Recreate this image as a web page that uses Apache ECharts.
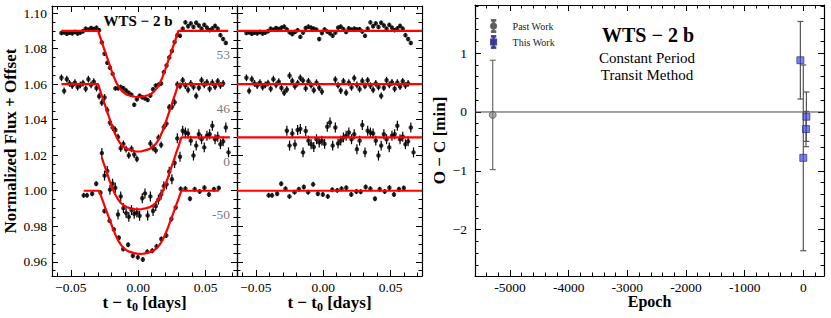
<!DOCTYPE html>
<html><head><meta charset="utf-8">
<script src="https://cdn.jsdelivr.net/npm/echarts@6/dist/echarts.min.js"></script>
<style>html,body{margin:0;padding:0;background:#fff}#c{width:831px;height:318px}</style>
</head><body><div id="c"></div>
<script>
// ---------------- DATA ----------------
const epochLabels = ['53', '46', '0', '-50'];
const baselines = [1.09, 1.06, 1.03, 1.00];
const fluxErr = [0.0012, 0.0019, 0.0028, 0.0014];

// epoch 53 (top light curve)
const t53 = [-0.057,-0.055,-0.053,-0.051,-0.049,-0.047,-0.045,-0.043,-0.041,-0.039,-0.037,-0.035,-0.033,-0.031,-0.029,-0.027,-0.025,-0.023,-0.021,-0.019,-0.017,-0.015,-0.013,-0.011,-0.009,-0.007,-0.005,-0.003,-0.001,0.001,0.003,0.005,0.007,0.009,0.011,0.013,0.015,0.017,0.019,0.021,0.023,0.025,0.027,0.029,0.031,0.033,0.035,0.037,0.039,0.041,0.043,0.045,0.047,0.049,0.051,0.053,0.055,0.057,0.059,0.061,0.063,0.065];
const f53 = [1.0888,1.0892,1.0884,1.0890,1.0886,1.0894,1.0885,1.0890,1.0898,1.0912,1.0906,1.0916,1.0910,1.0918,1.0904,1.0835,1.0771,1.0720,1.0693,1.0658,1.0576,1.0577,1.0584,1.0577,1.0564,1.0551,1.0540,1.0484,1.0515,1.0535,1.0526,1.0520,1.0511,1.0536,1.0571,1.0592,1.0597,1.0604,1.0668,1.0705,1.0750,1.0787,1.0837,1.0876,1.0872,1.0912,1.0948,1.0926,1.0942,1.0922,1.0946,1.0930,1.0912,1.0934,1.0918,1.0904,1.0914,1.0928,1.0912,1.0876,1.0854,1.0832];
const r53 = [-1.2,-0.8,-1.6,-1.0,-1.4,-0.6,-1.5,-1.0,-0.2,1.2,0.6,1.6,1.0,1.8,2.4,0.8,-0.8,-1.8,-0.6,0.4,-3.4,-1.0,1.6,2.4,1.8,1.2,0.6,-4.6,-1.2,0.8,-0.4,-1.4,-2.8,-1.0,1.8,2.4,1.0,-0.6,1.4,0.6,1.2,0.8,1.0,-0.4,-2.8,1.2,4.8,2.6,4.2,2.2,4.6,3.0,1.2,3.4,1.8,0.4,1.4,2.8,1.2,-2.4,-4.6,-6.8];
const mt53 = [-0.057,-0.0298,-0.028,-0.026,-0.024,-0.022,-0.020,-0.018,-0.016,-0.014,-0.012,-0.010,-0.008,-0.005,-0.0025,0,0.0025,0.005,0.008,0.010,0.012,0.014,0.016,0.018,0.020,0.022,0.024,0.026,0.028,0.0298,0.0668];
const mf53 = [1.09,1.09,1.0859,1.0814,1.0769,1.0725,1.0680,1.0639,1.0605,1.0579,1.0561,1.0548,1.0539,1.0533,1.0529,1.0527,1.0529,1.0533,1.0539,1.0548,1.0561,1.0579,1.0605,1.0639,1.0680,1.0725,1.0769,1.0814,1.0859,1.09,1.09];

// epoch 46
const t46 = [-0.057,-0.055,-0.053,-0.051,-0.049,-0.047,-0.045,-0.043,-0.041,-0.039,-0.037,-0.035,-0.033,-0.031,-0.029,-0.027,-0.025,-0.023,-0.021,-0.019,-0.017,-0.015,-0.013,-0.011,-0.009,-0.007,-0.005,-0.003,-0.001,0.009,0.011,0.013,0.015,0.017,0.019,0.021,0.023,0.025,0.027,0.029,0.031,0.033,0.035,0.037,0.039,0.041,0.043,0.045,0.047,0.049,0.051,0.053,0.055,0.057,0.059,0.061,0.063];
const f46 = [1.0636,1.0562,1.0628,1.0604,1.0592,1.0608,1.0584,1.0596,1.0606,1.0574,1.0628,1.0596,1.0614,1.0578,1.0532,1.0496,1.0525,1.0454,1.0384,1.0356,1.0342,1.0302,1.0239,1.0264,1.0234,1.0199,1.0236,1.0204,1.0179,1.0266,1.0242,1.0227,1.0298,1.0258,1.0358,1.0378,1.0470,1.0473,1.0498,1.0598,1.0590,1.0622,1.0592,1.0568,1.0604,1.0584,1.0534,1.0580,1.0622,1.0596,1.0610,1.0574,1.0608,1.0586,1.0616,1.0592,1.0604];
const r46 = [3.6,-3.8,2.8,0.4,-0.8,0.8,-1.6,-0.4,0.6,-2.6,2.8,-0.4,1.4,-2.2,-4.8,-3.0,4.8,1.8,-1.2,0.6,3.6,2.0,-2.4,1.6,-0.6,-3.4,0.8,-2.0,-4.2,2.6,-0.6,-3.6,1.6,-4.8,0.8,-1.8,3.4,-0.4,-2.8,1.8,-1.0,2.2,-0.8,-3.2,0.4,-1.6,-6.6,-2.0,2.2,-0.4,1.0,-2.6,0.8,-1.4,1.6,-0.8,0.4];
const mt46 = [-0.057,-0.0298,-0.028,-0.026,-0.024,-0.022,-0.020,-0.018,-0.016,-0.014,-0.012,-0.010,-0.008,-0.005,-0.0025,0,0.0025,0.005,0.008,0.010,0.012,0.014,0.016,0.018,0.020,0.022,0.024,0.026,0.028,0.0298,0.063];
const mf46 = [1.06,1.06,1.0558,1.0513,1.0467,1.0422,1.0376,1.0335,1.0301,1.0274,1.0255,1.0242,1.0234,1.0227,1.0222,1.0221,1.0222,1.0227,1.0234,1.0242,1.0255,1.0274,1.0301,1.0335,1.0376,1.0422,1.0467,1.0513,1.0558,1.06,1.06];

// epoch 0
const t0 = [-0.027,-0.025,-0.023,-0.021,-0.019,-0.017,-0.015,-0.013,-0.011,-0.009,-0.007,-0.005,-0.003,-0.001,0.001,0.003,0.005,0.007,0.009,0.011,0.013,0.015,0.017,0.019,0.021,0.023,0.025,0.027,0.029,0.031,0.033,0.035,0.037,0.039,0.041,0.043,0.045,0.047,0.049,0.051,0.053,0.055,0.057,0.059,0.061,0.063,0.065,0.067];
const f0 = [1.0212,1.0085,1.0111,1.0006,1.0040,1.0017,0.9866,0.9968,0.9902,0.9874,0.9853,0.9891,0.9870,0.9877,0.9859,0.9958,0.9985,0.9861,0.9968,0.9886,0.9914,0.9950,0.9979,1.0026,1.0036,1.0107,1.0065,1.0156,1.0295,1.0191,1.0338,1.0328,1.0322,1.0282,1.0198,1.0254,1.0318,1.0290,1.0244,1.0310,1.0318,1.0366,1.0290,1.0304,1.0262,1.0278,1.0356,1.0216];
const r0 = [3.8,-4.6,2.2,-4.0,4.2,4.8,-8.4,3.6,-1.8,-3.8,-5.4,-1.0,-2.8,-1.8,-3.6,6.0,8.4,-4.6,5.6,-3.4,-1.8,0,1.0,2.8,-1.0,1.8,-6.6,-1.8,7.0,-8.4,3.8,2.8,2.2,-1.8,-10.2,-4.6,1.8,-1.0,-5.6,1.0,1.8,6.6,-1.0,0.4,-3.8,-2.2,5.6,-8.4];
const mt0 = [-0.027,-0.0258,-0.0236,-0.0215,-0.0193,-0.0172,-0.0150,-0.0129,-0.0107,-0.0086,-0.0054,-0.0027,0,0.0027,0.0054,0.0086,0.0107,0.0129,0.0150,0.0172,0.0193,0.0215,0.0236,0.0258,0.0279,0.0301,0.032,0.068];
const mf0 = [1.0186,1.0158,1.0110,1.0061,1.0017,0.9980,0.9952,0.9931,0.9917,0.9908,0.9901,0.9897,0.9895,0.9897,0.9901,0.9908,0.9917,0.9931,0.9952,0.9980,1.0017,1.0061,1.0110,1.0158,1.0207,1.0255,1.03,1.03];

// epoch -50
const tm50 = [-0.0405,-0.0380,-0.0342,-0.0312,-0.0280,-0.0251,-0.0213,-0.0181,-0.0144,-0.0112,-0.0075,-0.0040,-0.0003,0.0034,0.0067,0.0104,0.0136,0.0171,0.0208,0.0246,0.0278,0.0315,0.0350,0.0384,0.0419,0.0456,0.0491,0.0525,0.0562,0.0598];
const fm50 = [0.9974,0.9974,0.9983,1.0039,0.9989,0.9886,0.9831,0.9782,0.9735,0.9672,0.9696,0.9634,0.9625,0.9613,0.9656,0.9662,0.9687,0.9728,0.9748,0.9841,0.9906,1.0010,1.0011,0.9955,1.0008,0.9996,1.0017,0.9979,1.0008,1.0015];
const rm50 = [-2.6,-2.6,-1.7,3.9,1.1,-3.2,-0.8,0.8,2.1,-0.8,3.6,-1.7,-2.1,-3.2,0.6,0.2,1.1,1.7,-2.1,-0.4,-0.6,2.1,1.1,-4.5,0.8,-0.4,1.7,-2.1,0.8,1.5];
const mtm50 = [-0.0405,-0.029,-0.0272,-0.0251,-0.0231,-0.021,-0.019,-0.0169,-0.0149,-0.0128,-0.0108,-0.0087,-0.0067,-0.0036,-0.0011,0.0015,0.0041,0.0066,0.0097,0.0117,0.0138,0.0158,0.0179,0.0199,0.022,0.024,0.0261,0.0281,0.0302,0.032,0.0598];
const mfm50 = [1.0,1.0,0.9961,0.9918,0.9876,0.9833,0.9791,0.9752,0.9720,0.9695,0.9677,0.9665,0.9657,0.9650,0.9646,0.9645,0.9646,0.9650,0.9657,0.9665,0.9677,0.9695,0.9720,0.9752,0.9791,0.9833,0.9876,0.9918,0.9961,1.0,1.0];

// O - C
const pastEpoch = [-5295];
const pastOC = [-0.05];
const pastErr = [0.93];
const thisEpoch = [-50, 0, 46, 53];
const thisOC = [0.88, -0.78, -0.29, -0.08];
const thisErr = [0.66, 1.58, 0.30, 0.42];

// axes extents & tick labels
const timeRange = [-0.064, 0.0733];
const fluxRange = [0.952, 1.104];
const epochRange = [-5597, 353];
const ocRange = [-2.79, 1.82];
const timeTicks = [-0.05, 0, 0.05];
const fluxTicks = [0.96, 0.98, 1.00, 1.02, 1.04, 1.06, 1.08, 1.10];
const epochTicks = [-5000, -4000, -3000, -2000, -1000, 0];
const ocTicks = [-2, -1, 0, 1];

// ---------------- CHART ----------------
const FONT = 'Liberation Serif';
function steps(lo, hi, st) { const o = []; const n = Math.round((hi - lo) / st); for (let i = 0; i <= n; i++) o.push(+(lo + i * st).toFixed(6)); return o; }
const timeMinor = steps(-0.06, 0.07, 0.01);
const fluxMinor = steps(0.955, 1.10, 0.005);
const epochMinor = steps(-5400, 200, 200);
const ocMinor = steps(-2.6, 1.8, 0.2);

const minusFmt = d => v => (v < 0 ? '\u2212' : '') + Math.abs(v).toFixed(d);

function axisGroup(dim, gridIndex, range, majors, minors, lab) {
  const sides = dim === 'x' ? ['bottom', 'top'] : ['left', 'right'];
  const list = [];
  sides.forEach(function (pos, si) {
    [true, false].forEach(function (major) {
      const ax = {
        type: 'value', gridIndex: gridIndex, position: pos, min: range[0], max: range[1],
        axisLine: {show: major, onZero: false, lineStyle: {color: '#000', width: 1.2}},
        axisTick: {show: true, inside: true, length: major ? 6 : 3.5, customValues: major ? majors : minors, lineStyle: {color: '#000', width: 1}},
        axisLabel: {show: false},
        splitLine: {show: false},
        minorTick: {show: false},
        axisPointer: {show: false},
        silent: true
      };
      if (major && si === 0 && lab) {
        ax.axisLabel = {show: true, customValues: majors, formatter: lab.fmt, margin: lab.margin, fontFamily: FONT, fontSize: 13.5, color: '#000'};
        if (lab.name) {
          ax.name = lab.name; ax.nameLocation = 'middle'; ax.nameGap = lab.nameGap;
          ax.nameTextStyle = lab.nameStyle; ax.nameMoveOverlap = false;
        }
      }
      list.push(ax);
    });
  });
  return list;
}

const boldName = {fontFamily: FONT, fontWeight: 'bold', fontSize: 17, color: '#000'};
const tName = {
  name: '{a|t \u2212 t}{s|0}{a| [days]}', nameGap: 16,
  nameStyle: {fontFamily: FONT, fontWeight: 'bold', fontSize: 17, color: '#000',
    rich: {a: {fontFamily: FONT, fontWeight: 'bold', fontSize: 17, color: '#000'},
           s: {fontFamily: FONT, fontWeight: 'bold', fontSize: 12, color: '#000', padding: [9, 0, 0, 0]}}}
};

const xAxes = [].concat(
  axisGroup('x', 0, timeRange, timeTicks, timeMinor, Object.assign({fmt: minusFmt(2), margin: 4}, tName)),
  axisGroup('x', 1, timeRange, timeTicks, timeMinor, Object.assign({fmt: minusFmt(2), margin: 4}, tName)),
  axisGroup('x', 2, epochRange, epochTicks, epochMinor, {fmt: v => String(v), margin: 4, name: 'Epoch', nameGap: 17, nameStyle: Object.assign({}, boldName, {fontSize: 16})})
);
const yAxes = [].concat(
  axisGroup('y', 0, fluxRange, fluxTicks, fluxMinor, {fmt: v => v.toFixed(2), margin: 5, name: 'Normalized Flux + Offset', nameGap: 33, nameStyle: boldName}),
  axisGroup('y', 1, fluxRange, fluxTicks, fluxMinor, null),
  axisGroup('y', 2, ocRange, ocTicks, ocMinor, {fmt: minusFmt(0), margin: 8, name: 'O \u2212 C [min]', nameGap: 27, nameStyle: boldName})
);

function errRender(color, width, cap) {
  return function (params, api) {
    const x = api.value(0), y = api.value(1), e = api.value(2);
    const lo = api.coord([x, y - e]), hi = api.coord([x, y + e]);
    const st = {stroke: color, lineWidth: width};
    const ch = [{type: 'line', shape: {x1: lo[0], y1: lo[1], x2: hi[0], y2: hi[1]}, style: st}];
    if (cap) {
      ch.push({type: 'line', shape: {x1: lo[0] - cap, y1: lo[1], x2: lo[0] + cap, y2: lo[1]}, style: st});
      ch.push({type: 'line', shape: {x1: hi[0] - cap, y1: hi[1], x2: hi[0] + cap, y2: hi[1]}, style: st});
    }
    return {type: 'group', children: ch};
  };
}

const series = [];
function points(grid, t, y, err) {
  series.push({type: 'custom', xAxisIndex: grid * 4, yAxisIndex: grid * 4, silent: true, clip: true, z: 2,
    data: t.map((v, i) => [v, y[i], err]), renderItem: errRender('#000', 1.2, 0)});
  series.push({type: 'scatter', xAxisIndex: grid * 4, yAxisIndex: grid * 4, silent: true, z: 3,
    symbol: 'circle', symbolSize: 4.5, itemStyle: {color: '#000'}, data: t.map((v, i) => [v, y[i]])});
}
function redLine(grid, t, y) {
  series.push({type: 'line', xAxisIndex: grid * 4, yAxisIndex: grid * 4, silent: true, z: 5, showSymbol: false, symbol: 'none',
    lineStyle: {color: '#ff0000', width: 2.2}, data: t.map((v, i) => [v, y[i]])});
}

const tArr = [t53, t46, t0, tm50];
const fArr = [f53, f46, f0, fm50];
const rArr = [r53, r46, r0, rm50];
const mtArr = [mt53, mt46, mt0, mtm50];
const mfArr = [mf53, mf46, mf0, mfm50];

for (let k = 0; k < 4; k++) {
  points(0, tArr[k], fArr[k], fluxErr[k]);
  redLine(0, mtArr[k], mfArr[k]);
  points(1, tArr[k], rArr[k].map(r => baselines[k] + r / 1000), fluxErr[k]);
  redLine(1, timeRange, [baselines[k], baselines[k]]);
}
// epoch labels
series.push({type: 'scatter', xAxisIndex: 0, yAxisIndex: 0, silent: true, clip: false, symbolSize: 0, z: 6,
  data: baselines.map((b, i) => ({value: [timeRange[1], b - 0.0135], name: epochLabels[i]})),
  label: {show: true, position: 'left', distance: 7, formatter: '{b}', fontFamily: FONT, fontSize: 13.5, color: '#555'}});

// O-C
series.push({type: 'line', xAxisIndex: 8, yAxisIndex: 8, silent: true, z: 1, symbol: 'none', showSymbol: false,
  lineStyle: {color: '#444', width: 1}, data: [[epochRange[0], 0], [epochRange[1], 0]]});
series.push({type: 'custom', xAxisIndex: 8, yAxisIndex: 8, silent: true, z: 2,
  data: pastEpoch.map((e, i) => [e, pastOC[i], pastErr[i]]), renderItem: errRender('#6a6a6a', 1.2, 3)});
series.push({type: 'scatter', name: 'Past Work', xAxisIndex: 8, yAxisIndex: 8, silent: true, z: 3,
  symbol: 'circle', symbolSize: 7, itemStyle: {color: 'rgba(130,130,130,0.85)', borderColor: '#444', borderWidth: 0.8},
  data: pastEpoch.map((e, i) => [e, pastOC[i]])});
series.push({type: 'custom', xAxisIndex: 8, yAxisIndex: 8, silent: true, z: 2,
  data: thisEpoch.map((e, i) => [e, thisOC[i], thisErr[i]]), renderItem: errRender('#555', 1.2, 3)});
series.push({type: 'scatter', name: 'This Work', xAxisIndex: 8, yAxisIndex: 8, silent: true, z: 3,
  symbol: 'rect', symbolSize: 7, itemStyle: {color: 'rgba(70,70,225,0.85)', borderColor: '#202080', borderWidth: 0.8},
  data: thisEpoch.map((e, i) => [e, thisOC[i]])});

const pastIcon = 'path://M4.6,0H5.4V14H4.6Z M3,0H7V0.8H3Z M3,13.2H7V14H3Z M2,7A3,3 0 1,0 8,7A3,3 0 1,0 2,7Z';
const thisIcon = 'path://M4.6,0H5.4V14H4.6Z M3,0H7V0.8H3Z M3,13.2H7V14H3Z M2,4H8V10H2Z';

const txt = (x, y, text, size, weight) => ({type: 'text', x: x, y: y, z: 20, silent: true,
  style: {text: text, fontFamily: FONT, fontSize: size, fontWeight: weight, fill: '#000', align: 'center', verticalAlign: 'middle'}});

const option = {
  animation: false,
  backgroundColor: '#fff',
  textStyle: {fontFamily: FONT},
  grid: [
    {left: 52, top: 6, width: 185, height: 270, containLabel: false, outerBoundsMode: 'none'},
    {left: 237, top: 6, width: 185, height: 270, containLabel: false, outerBoundsMode: 'none'},
    {left: 475, top: 5, width: 349, height: 271, containLabel: false, outerBoundsMode: 'none'}
  ],
  xAxis: xAxes,
  yAxis: yAxes,
  legend: {left: 485, top: 14, orient: 'vertical', itemWidth: 20, itemHeight: 12, itemGap: 2, selectedMode: false,
    textStyle: {fontFamily: FONT, fontSize: 10, color: '#222', padding: [0, 0, 0, 4]},
    data: [{name: 'Past Work', icon: pastIcon}, {name: 'This Work', icon: thisIcon}]},
  graphic: [
    txt(138, 21, 'WTS \u2212 2 b', 15, 'bold'),
    txt(648, 35, 'WTS \u2212 2 b', 20, 'bold'),
    txt(647, 58, 'Constant Period', 15, 'normal'),
    txt(647, 75, 'Transit Method', 15, 'normal')
  ],
  series: series
};
const chart = echarts.init(document.getElementById('c'), null, {renderer: 'svg', width: 831, height: 318});
chart.setOption(option);
</script></body></html>
